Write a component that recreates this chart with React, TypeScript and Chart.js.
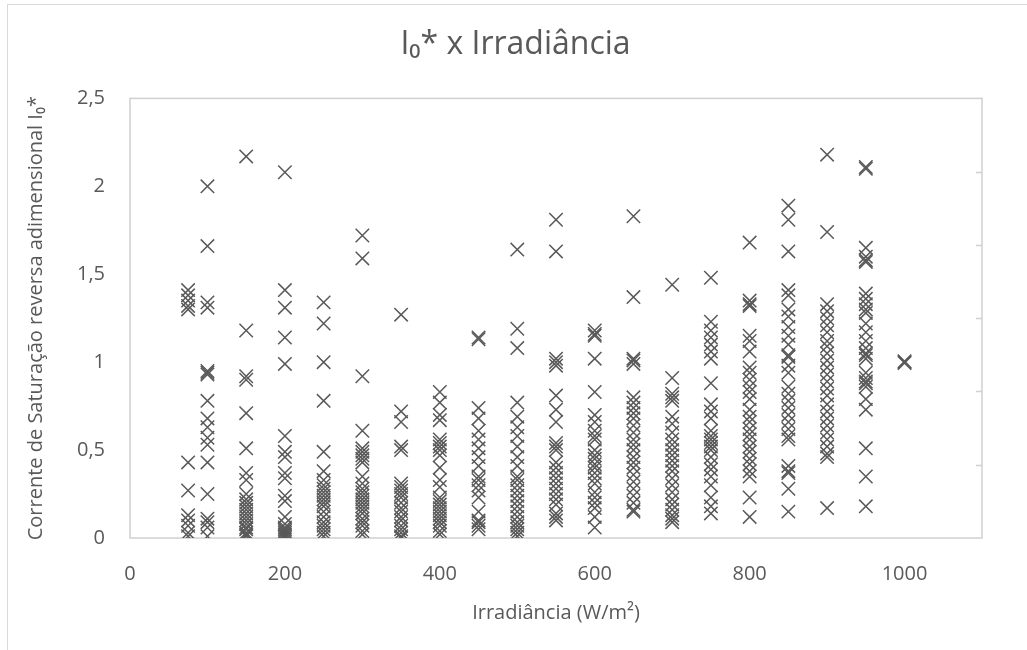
import { useEffect, useRef } from "react";
import { Chart, registerables } from "chart.js";

Chart.register(...registerables);

// Irradiance levels (W/m²) and the I0* values observed at each level
const irradianceLevels = [75, 100, 150, 200, 250, 300, 350, 400, 450, 500, 550, 600, 650, 700, 750, 800, 850, 900, 950, 1000];

const irr075 = [1.41, 1.38, 1.35, 1.32, 1.3, 0.43, 0.27, 0.13, 0.1, 0.07, 0.03, 0.01];
const irr100 = [2.0, 1.66, 1.34, 1.31, 0.95, 0.94, 0.93, 0.78, 0.68, 0.63, 0.57, 0.53, 0.43, 0.25, 0.11, 0.09, 0.06, 0.01];
const irr150 = [2.17, 1.18, 0.92, 0.9, 0.71, 0.51, 0.37, 0.33, 0.25, 0.22, 0.2, 0.18, 0.16, 0.14, 0.12, 0.1, 0.08, 0.06, 0.05, 0.03, 0.02, 0.01];
const irr200 = [2.08, 1.41, 1.31, 1.14, 0.99, 0.58, 0.49, 0.46, 0.37, 0.34, 0.24, 0.21, 0.12, 0.08, 0.06, 0.05, 0.04, 0.03, 0.02, 0.01, 0.0];
const irr250 = [1.34, 1.22, 1.0, 0.78, 0.49, 0.38, 0.33, 0.3, 0.28, 0.26, 0.24, 0.22, 0.2, 0.18, 0.15, 0.12, 0.09, 0.07, 0.05, 0.03, 0.01];
const irr300 = [1.72, 1.59, 0.92, 0.61, 0.51, 0.49, 0.47, 0.45, 0.43, 0.35, 0.31, 0.28, 0.26, 0.24, 0.22, 0.2, 0.18, 0.16, 0.14, 0.11, 0.09, 0.07, 0.04, 0.02];
const irr350 = [1.27, 0.72, 0.66, 0.52, 0.5, 0.31, 0.29, 0.27, 0.25, 0.23, 0.2, 0.17, 0.15, 0.12, 0.1, 0.07, 0.05, 0.03, 0.01, 0.0];
const irr400 = [0.83, 0.77, 0.7, 0.67, 0.56, 0.54, 0.52, 0.5, 0.47, 0.4, 0.33, 0.29, 0.23, 0.21, 0.19, 0.17, 0.15, 0.13, 0.11, 0.09, 0.07, 0.04, 0.02];
const irr450 = [1.14, 1.13, 0.74, 0.68, 0.61, 0.56, 0.51, 0.46, 0.41, 0.35, 0.33, 0.3, 0.27, 0.23, 0.15, 0.1, 0.09, 0.07, 0.05];
const irr500 = [1.64, 1.19, 1.08, 0.77, 0.69, 0.63, 0.58, 0.52, 0.46, 0.41, 0.35, 0.33, 0.3, 0.27, 0.24, 0.21, 0.18, 0.15, 0.12, 0.09, 0.07, 0.05, 0.03, 0.01];
const irr550 = [1.81, 1.63, 1.02, 1.0, 0.98, 0.81, 0.73, 0.66, 0.54, 0.52, 0.5, 0.43, 0.4, 0.37, 0.34, 0.31, 0.28, 0.25, 0.22, 0.19, 0.14, 0.12, 0.1];
const irr600 = [1.18, 1.16, 1.15, 1.02, 0.83, 0.7, 0.66, 0.61, 0.58, 0.56, 0.5, 0.47, 0.45, 0.42, 0.4, 0.37, 0.34, 0.31, 0.26, 0.23, 0.2, 0.17, 0.12, 0.06];
const irr650 = [1.83, 1.37, 1.02, 1.01, 0.99, 0.8, 0.77, 0.74, 0.71, 0.68, 0.64, 0.6, 0.56, 0.53, 0.5, 0.46, 0.43, 0.4, 0.36, 0.32, 0.28, 0.24, 0.2, 0.16, 0.15];
const irr700 = [1.44, 0.91, 0.82, 0.8, 0.78, 0.69, 0.65, 0.6, 0.56, 0.53, 0.5, 0.47, 0.44, 0.41, 0.38, 0.34, 0.3, 0.26, 0.22, 0.19, 0.16, 0.13, 0.11, 0.09];
const irr750 = [1.48, 1.23, 1.18, 1.14, 1.1, 1.06, 1.02, 0.88, 0.76, 0.72, 0.68, 0.61, 0.58, 0.56, 0.54, 0.52, 0.5, 0.46, 0.42, 0.39, 0.35, 0.3, 0.23, 0.18, 0.14];
const irr800 = [1.68, 1.35, 1.33, 1.32, 1.15, 1.12, 1.06, 0.97, 0.94, 0.9, 0.86, 0.83, 0.79, 0.73, 0.69, 0.66, 0.62, 0.59, 0.56, 0.52, 0.49, 0.45, 0.42, 0.38, 0.35, 0.23, 0.12];
const irr850 = [1.89, 1.81, 1.63, 1.41, 1.38, 1.3, 1.26, 1.2, 1.15, 1.1, 1.04, 1.03, 0.98, 0.94, 0.86, 0.82, 0.78, 0.74, 0.7, 0.66, 0.62, 0.58, 0.56, 0.41, 0.38, 0.37, 0.28, 0.15];
const irr900 = [2.18, 1.74, 1.33, 1.29, 1.25, 1.21, 1.17, 1.12, 1.09, 1.05, 1.01, 0.97, 0.93, 0.89, 0.85, 0.81, 0.76, 0.72, 0.68, 0.64, 0.6, 0.56, 0.52, 0.48, 0.46, 0.17];
const irr950 = [2.11, 2.1, 1.65, 1.6, 1.58, 1.57, 1.39, 1.36, 1.33, 1.3, 1.28, 1.22, 1.17, 1.12, 1.08, 1.05, 1.04, 1.02, 0.94, 0.91, 0.89, 0.88, 0.86, 0.79, 0.73, 0.51, 0.35, 0.18];
const irr1000 = [1.0, 1.005, 0.995];

const valuesByLevel = [irr075, irr100, irr150, irr200, irr250, irr300, irr350, irr400, irr450, irr500, irr550, irr600, irr650, irr700, irr750, irr800, irr850, irr900, irr950, irr1000];

const xTickValues = [0, 200, 400, 600, 800, 1000];
const yTickValues = [0, 0.5, 1, 1.5, 2, 2.5];

const chartTitle = "I₀* x Irradiância";
const xTitle = "Irradiância (W/m²)";
const yTitle = "Corrente de Saturação reversa adimensional I₀*";

const FONT = "'Open Sans', 'DejaVu Sans', sans-serif";
const TEXT = "#595959";

const framePlugin = {
  id: "frame",
  beforeDatasetsDraw(chart: any) {
    const { ctx, chartArea: a } = chart;
    ctx.save();
    ctx.strokeStyle = "#d0d0d0";
    ctx.lineWidth = 1.5;
    ctx.strokeRect(a.left, a.top, a.right - a.left, a.bottom - a.top);
    const h = a.bottom - a.top;
    ctx.beginPath();
    for (let k = 1; k < 6; k++) {
      const y = Math.round(a.top + (k * h) / 6) + 0.5;
      ctx.moveTo(a.right - 6, y);
      ctx.lineTo(a.right, y);
    }
    ctx.stroke();
    ctx.restore();
  },
};

export default function App() {
  const ref = useRef<HTMLCanvasElement>(null);

  useEffect(() => {
    document.body.style.margin = "0";
    const points: { x: number; y: number }[] = [];
    irradianceLevels.forEach((lvl, i) => {
      valuesByLevel[i].forEach((v) => points.push({ x: lvl, y: v }));
    });

    const chart = new Chart(ref.current!, {
      type: "scatter",
      data: {
        datasets: [
          {
            label: "I0*",
            data: points,
            pointStyle: "crossRot",
            pointRadius: 9.5,
            pointHoverRadius: 9.5,
            borderColor: "#595959",
            backgroundColor: "#595959",
            borderWidth: 1.5,
            showLine: false,
          } as any,
        ],
      },
      options: {
        responsive: false,
        animation: false,
        devicePixelRatio: 1,
        layout: { padding: { left: 4, right: 0, top: 0, bottom: 0 } },
        plugins: {
          legend: { display: false },
          tooltip: { enabled: false },
          title: {
            display: true,
            text: chartTitle,
            color: TEXT,
            font: { family: FONT, size: 32, weight: "normal" as any },
            padding: { top: 26, bottom: 34 },
          },
        },
        scales: {
          x: {
            type: "linear",
            min: 0,
            max: 1100,
            afterBuildTicks: (s: any) => {
              s.ticks = xTickValues.map((v) => ({ value: v }));
            },
            ticks: {
              color: TEXT,
              font: { family: FONT, size: 20 },
              padding: 24,
              maxRotation: 0,
              callback: (v: any) => String(v),
            },
            grid: { display: false, drawTicks: false },
            border: { display: false },
            title: {
              display: true,
              text: xTitle,
              color: TEXT,
              font: { family: FONT, size: 20 },
              padding: { top: 10, bottom: 25 },
            },
            afterFit: (s: any) => {
              s.height = 112;
            },
          },
          y: {
            type: "linear",
            min: 0,
            max: 2.5,
            afterBuildTicks: (s: any) => {
              s.ticks = yTickValues.map((v) => ({ value: v }));
            },
            ticks: {
              color: TEXT,
              font: { family: FONT, size: 20 },
              padding: 25,
              callback: (v: any) => String(v).replace(".", ","),
            },
            grid: { display: false, drawTicks: false },
            border: { display: false },
            title: {
              display: true,
              text: yTitle,
              color: TEXT,
              font: { family: FONT, size: 20 },
              padding: { top: 20, bottom: 0 },
            },
            afterFit: (s: any) => {
              s.width = 126;
            },
          },
          y2: {
            type: "linear",
            position: "right",
            min: 0,
            max: 6,
            ticks: { display: false },
            grid: { display: false, drawTicks: false },
            border: { display: false },
            afterFit: (s: any) => {
              s.width = 45;
            },
          },
        },
      },
      plugins: [framePlugin],
    });
    return () => chart.destroy();
  }, []);

  return (
    <div style={{ position: "relative", width: 1027, height: 650, background: "#fff", overflow: "hidden" }}>
      <div
        style={{
          position: "absolute",
          left: 7,
          top: 4,
          width: 1100,
          height: 700,
          borderLeft: "1px solid #d9d9d9",
          borderTop: "1px solid #d9d9d9",
        }}
      />
      <canvas ref={ref} width={1027} height={650} style={{ position: "absolute", left: 0, top: 0 }} />
    </div>
  );
}
